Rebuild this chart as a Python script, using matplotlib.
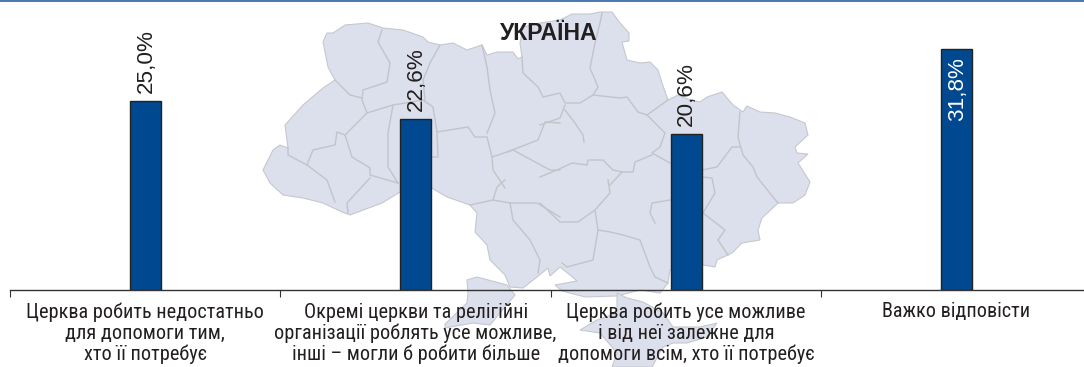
import matplotlib
matplotlib.use('Agg')
import matplotlib.pyplot as plt
from matplotlib.patches import Polygon

# survey data
categories = ['Церква робить недостатньо\nдля допомоги тим,\nхто її потребує',
              'Окремі церкви та релігійні\nорганізації роблять усе можливе,\nінші – могли б робити більше',
              'Церква робить усе можливе\nі від неї залежне для\nдопомоги всім, хто її потребує',
              'Важко відповісти']
values = [25.0, 22.6, 20.6, 31.8]
value_labels = ['25,0%', '22,6%', '20,6%', '31,8%']
label_inside = [False, False, False, True]
map_title = 'УКРАЇНА'

# background map, traced in image pixels
ukraine = [(263,170),(273,150),(280,145),(288,148),(285,125),(303,105),(323,88),(335,80),
    (328,67),(323,42),(327,33),(333,33),(345,25),(368,23),(383,28),(403,30),(423,37),(428,42),
    (440,45),(453,43),(467,50),(482,45),(487,55),(497,52),(513,52),(518,59),(522,57),(520,43),
    (523,27),(540,23),(560,20),(572,14),(590,14),(600,12),(612,12),(620,23),(629,33),(629,41),
    (622,42),(627,60),(640,63),(650,62),(658,70),(662,83),(668,100),(678,95),(690,100),(700,102),
    (707,97),(722,92),(733,105),(743,112),(747,106),(760,112),(775,113),(790,117),(805,123),
    (808,135),(795,147),(797,153),(808,154),(798,163),(810,182),(805,195),(793,203),(778,203),
    (762,218),(758,230),(760,240),(742,243),(732,253),(717,260),(715,267),(703,265),(670,270),
    (668,283),(660,293),(640,290),(617,296),(585,297),(562,291),(555,285),(577,281),(570,275),
    (560,267),(550,276),(548,268),(537,277),(523,288),(510,287),(505,275),(490,260),(487,245),
    (475,232),(477,213),(470,205),(447,197),(430,187),(400,192),(382,203),(350,215),(342,212),
    (323,203),(303,198),(283,195),(270,183)]
odesa = [(467,280),(477,277),(507,285),(515,295),(490,325),(473,323),(445,328),(445,324),
    (467,303),(468,293)]
crimea = [(617,293),(627,298),(643,302),(663,313),(673,327),(700,327),(717,323),(707,337),
    (687,343),(673,343),(663,347),(652,367),(612,367),(617,353),(600,333),(580,330),(597,320),
    (617,313)]
borders = [
    [(382,30),(378,42),(390,63),(387,82),(363,90),(362,100),(367,113),(393,105),(423,100),(433,107),
     (437,132),(468,127),(475,137),(487,137),(492,157),(507,152),(538,140),(545,122),(560,123)],
    [(440,45),(430,63),(423,80),(425,100)],
    [(335,80),(350,95),(362,98)],
    [(367,113),(360,120),(345,135),(337,132),(335,145),(313,150),(307,165),(288,155),(288,148)],
    [(345,135),(352,157),(370,168),(370,175),(398,183)],
    [(307,165),(327,180),(335,202)],
    [(370,178),(347,203),(348,213)],
    [(393,105),(388,133),(388,167),(398,183)],
    [(482,45),(487,67),(490,90),(495,113),(487,133)],
    [(437,132),(438,157),(430,157)],
    [(492,157),(493,170),(505,188)],
    [(507,152),(513,150),(550,170),(560,170)],
    [(522,57),(523,73),(538,87),(543,97),(560,93),(565,103),(580,103),(593,95),(598,87),(590,68),
     (595,43),(600,23),(602,13)],
    [(593,95),(620,98),(627,97),(638,112),(647,115),(668,100)],
    [(647,115),(655,123),(665,133),(660,147),(652,153),(670,163)],
    [(652,155),(635,162),(633,172),(622,172),(610,185)],
    [(540,177),(557,170),(572,163),(587,165),(588,160),(603,160),(613,170),(622,172)],
    [(565,105),(560,118),(540,125)],
    [(565,110),(575,123),(583,135),(584,142)],
    [(740,112),(738,137),(743,155),(753,167),(757,177),(773,197),(778,203)],
    [(702,170),(717,167),(732,147),(740,147)],
    [(702,177),(712,178),(715,193),(703,213),(725,230),(718,240),(728,255)],
    [(608,180),(610,193),(595,210),(578,222),(560,222),(540,203)],
    [(595,210),(598,230),(610,232),(623,235),(640,240),(650,267),(655,277),(668,283)],
    [(598,230),(593,260),(567,267),(562,263)],
    [(670,200),(652,203),(650,213),(655,223)],
    [(505,180),(497,187),(493,200),(470,205)],
    [(493,200),(510,203),(513,220),(530,240),(540,260),(538,273)],
    [(510,203),(537,203),(560,217)],
]

width = 1084 ; height = 367
text_color = '#231f20'

fig = plt.figure(figsize=(width/100, height/100), dpi=100)

# map sits in a pixel-coordinate axes behind the chart
bg = fig.add_axes([0, 0, 1, 1], zorder=0)
bg.set_xlim(0, width)
bg.set_ylim(height, 0)
bg.axis('off')
for shape in [ukraine, odesa, crimea]:
    bg.add_patch(Polygon(shape, closed=True, facecolor='#dcdfec', edgecolor='#c6c8cf', linewidth=0.8))
for line in borders:
    bg.plot([p[0] for p in line], [p[1] for p in line], color='#c2c4ca', linewidth=1.0)
bg.text(549, 33, map_title, ha='center', va='center', fontsize=16.6, fontweight='bold',
        family='Liberation Sans', color=text_color)

ax = fig.add_axes([10/width, 1 - 290/height, 1074/width, 288.5/height], zorder=1)
ax.patch.set_alpha(0)

x = list(range(len(values)))
bars = ax.bar(x, values, width=31/270.4, color='#004990', edgecolor='#222222', linewidth=1)
ax.set_xlim(-0.5, -0.5 + 1074/270.4)
ax.set_ylim(0, 288.5/7.57)

for b, val, lab, inside in zip(bars, values, value_labels, label_inside):
    if inside:
        ax.annotate(lab, (b.get_x() + b.get_width()/2, val), xytext=(0.5, -5.5), textcoords='offset points',
                    rotation=90, ha='center', va='top', fontsize=16.2, family='Liberation Sans', color='white')
    else:
        ax.annotate(lab, (b.get_x() + b.get_width()/2, val), xytext=(0.5, 5.5), textcoords='offset points',
                    rotation=90, ha='center', va='bottom', fontsize=16.2, family='Liberation Sans', color=text_color)

for s in ['left', 'right', 'top']:
    ax.spines[s].set_visible(False)
ax.spines['bottom'].set_color('#333333')
ax.spines['bottom'].set_linewidth(1)
ax.set_yticks([])

ax.set_xticks(x)
ax.set_xticklabels(categories, fontsize=14.6, family='Roboto Condensed', color=text_color, linespacing=1.1)
ax.tick_params(axis='x', which='major', length=0, pad=9)
ax.set_xticks([-0.5, 0.5, 1.5, 2.5], minor=True)
ax.tick_params(axis='x', which='minor', length=5, width=0.8, color='#333333')

# rule along the top edge
fig.add_artist(plt.Line2D([0, 1], [1 - 1.2/height, 1 - 1.2/height], color='#2a5f9e', linewidth=1.2))

fig.savefig('out.png', dpi=100)
